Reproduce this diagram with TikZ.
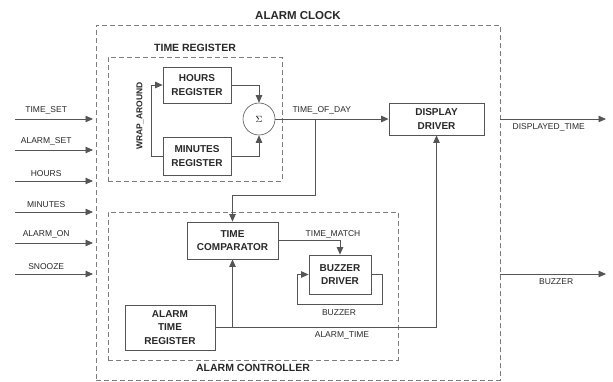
\documentclass[tikz,border=0pt]{standalone}
\usepackage{fontspec}
\setmainfont{Liberation Sans}
\usetikzlibrary{positioning,arrows.meta,calc}
\definecolor{linegray}{RGB}{85,85,85}
\definecolor{dashgray}{RGB}{125,125,125}
\definecolor{textgray}{RGB}{40,40,40}
\tikzset{
  box/.style={draw=linegray, line width=0.8pt, align=center, inner sep=0pt, text=textgray, font=\fontsize{10}{13.5}\selectfont\bfseries},
  sumnode/.style={circle, draw=linegray, line width=0.6pt, minimum size=32pt, inner sep=0pt},
  group/.style={draw=dashgray, line width=0.8pt, dash pattern=on 5pt off 3pt, inner sep=0pt},
  grouptitle/.style={inner sep=0pt, text=textgray, font=\fontsize{10.5}{12}\selectfont\bfseries},
  sig/.style={inner sep=1pt, text=textgray, font=\fontsize{8.5}{10}\selectfont},
  arr/.style={-{Triangle[length=7.5pt, width=6.5pt]}, line width=0.8pt, draw=linegray},
  wire/.style={line width=0.8pt, draw=linegray},
}
\begin{document}
\begin{tikzpicture}[x=1pt, y=-1pt]
  \useasboundingbox (0,0) rectangle (613,382);
  % dashed groups
  \node[group, minimum width=404pt, minimum height=355pt] (clock) at (298,202.5) {};
  \node[group, minimum width=174pt, minimum height=124pt] (treg) at (195,119) {};
  \node[group, minimum width=290pt, minimum height=148pt] (actrl) at (253,286) {};
  \node[grouptitle, font=\fontsize{11.5}{13}\selectfont\bfseries, above=5pt of clock.north] (clocktitle) {ALARM CLOCK};
  \node[grouptitle, above=5pt of treg.north] (tregtitle) {TIME REGISTER};
  \node[grouptitle, below=4pt of actrl.south] (actrltitle) {ALARM CONTROLLER};

  % blocks
  \node[box, minimum width=68pt, minimum height=36pt] (hours) at (197,85) {HOURS\\REGISTER};
  \node[box, minimum width=68pt, minimum height=38pt] (minutes) at (197,156) {MINUTES\\REGISTER};
  \node[sumnode] (sigma) at (259,119) {\small$\Sigma$};
  \node[box, minimum width=95pt, minimum height=32pt] (display) at (436.5,119) {DISPLAY\\DRIVER};
  \node[box, minimum width=91pt, minimum height=37pt] (comparator) at (232.5,240.5) {TIME\\COMPARATOR};
  \node[box, minimum width=62pt, minimum height=39pt] (buzzer) at (340,274.5) {BUZZER\\DRIVER};
  \node[box, minimum width=90pt, minimum height=45pt] (alarmreg) at (170,327.5) {ALARM\\TIME\\REGISTER};

  % inputs
  \foreach \lbl/\yy [count=\i] in {TIME\_SET/119, ALARM\_SET/150, HOURS/181, MINUTES/212, ALARM\_ON/243, SNOOZE/274}{
    \coordinate (in\i) at (15,\yy);
    \coordinate (in\i-end) at (93,\yy);
    \draw[arr] (in\i) -- node[sig, above=3pt, pos=0.4] {\lbl} (in\i-end);
  }

  % time register
  \draw[arr] (hours.east) -| (sigma.north);
  \draw[arr] (minutes.east) -| (sigma.south);
  \draw[arr] (minutes.west) -- ++(-11,0) |- (hours.west);
  \node[sig, font=\fontsize{8.5}{10}\selectfont\bfseries, rotate=90] (wrap) at (140,116) {WRAP\_AROUND};

  % time of day
  \draw[arr] (sigma.east) -- node[sig, above=3pt, pos=0.41] {TIME\_OF\_DAY} (display.west);
  \coordinate (tod) at (315,119);
  \coordinate (todturn) at (315,195);
  \draw[arr] (tod) -- (todturn) -| (comparator.north);

  % alarm controller
  \draw[arr] (comparator.east) -| (buzzer.north);
  \node[sig] (matchlbl) at (333,234) {TIME\_MATCH};
  \draw[arr] (buzzer.east) -- ++(11,0) |- (297,304) |- (buzzer.west);
  \node[sig] (buzzlbl) at (339,313) {BUZZER};
  \draw[arr] (alarmreg.east) -| (display.south);
  \draw[arr] (alarmreg.east -| comparator.south) -- (comparator.south);
  \node[sig] (atlbl) at (342,335.5) {ALARM\_TIME};

  % outputs
  \coordinate (dispout) at (500,119);
  \coordinate (dispend) at (606,119);
  \draw[arr] (dispout) -- node[sig, below=3pt, pos=0.46] {DISPLAYED\_TIME} (dispend);
  \coordinate (buzzout) at (500,274);
  \coordinate (buzzend) at (606,274);
  \draw[arr] (buzzout) -- node[sig, below=3pt, pos=0.53] {BUZZER} (buzzend);
\end{tikzpicture}
\end{document}
